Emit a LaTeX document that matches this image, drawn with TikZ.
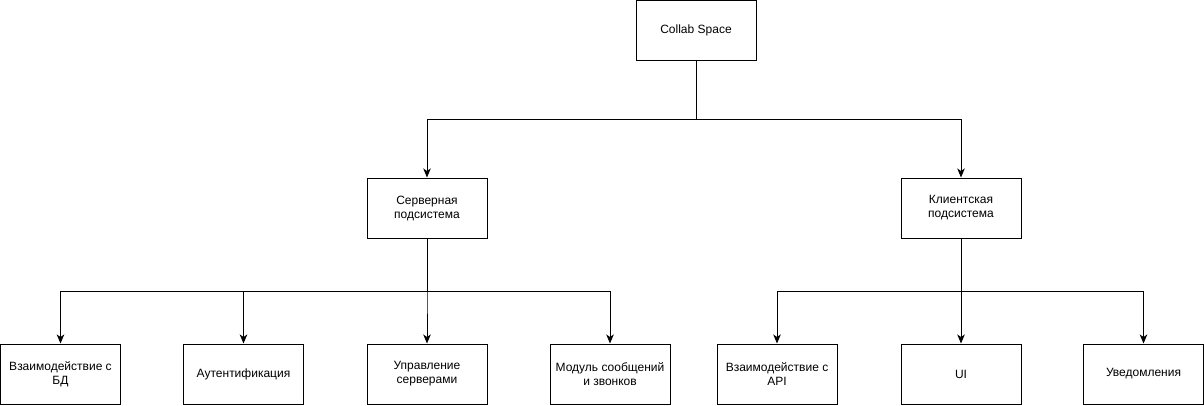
\documentclass[tikz,border=0pt]{standalone}
\usepackage{fontspec}
\setmainfont{Liberation Sans}
\usetikzlibrary{arrows.meta}
\begin{document}
\begin{tikzpicture}[x=1pt,y=-1pt,
  box/.style={draw=black, line width=1pt, fill=white, minimum width=120pt, minimum height=60pt,
    inner sep=0pt, align=center, font=\fontsize{12pt}{14pt}\selectfont},
  arr/.style={draw=black, line width=1pt, -{Stealth[length=9pt,width=7.5pt,inset=2.5pt]}}]
\useasboundingbox (0,0) rectangle (1204,405);
\node[box] (top) at (696,30) {Collab Space};
\node[box] (srv) at (427,208) {Серверная\\подсистема};
\node[box] (cli) at (961,208) {Клиентская\\подсистема};
\node[box] (db) at (60.5,374) {Взаимодействие с\\БД};
\node[box] (auth) at (243.5,374) {Аутентификация};
\node[box] (mgr) at (427,374) {Управление\\серверами};
\node[box] (msg) at (610,374) {Модуль сообщений\\и звонков};
\node[box] (api) at (777,374) {Взаимодействие с\\API};
\node[box] (ui) at (961,374) {UI};
\node[box] (ntf) at (1143.5,374) {Уведомления};
\coordinate (b0) at (0,119);
\coordinate (b1) at (0,291);
\draw[arr] (top.south) -- (top.south |- b0) -| (srv.north);
\draw[arr] (top.south) -- (top.south |- b0) -| (cli.north);
\foreach \t in {db,auth,mgr,msg}
  \draw[arr] (srv.south) -- (srv.south |- b1) -| (\t.north);
\foreach \t in {api,ui,ntf}
  \draw[arr] (cli.south) -- (cli.south |- b1) -| (\t.north);
\end{tikzpicture}
\end{document}
